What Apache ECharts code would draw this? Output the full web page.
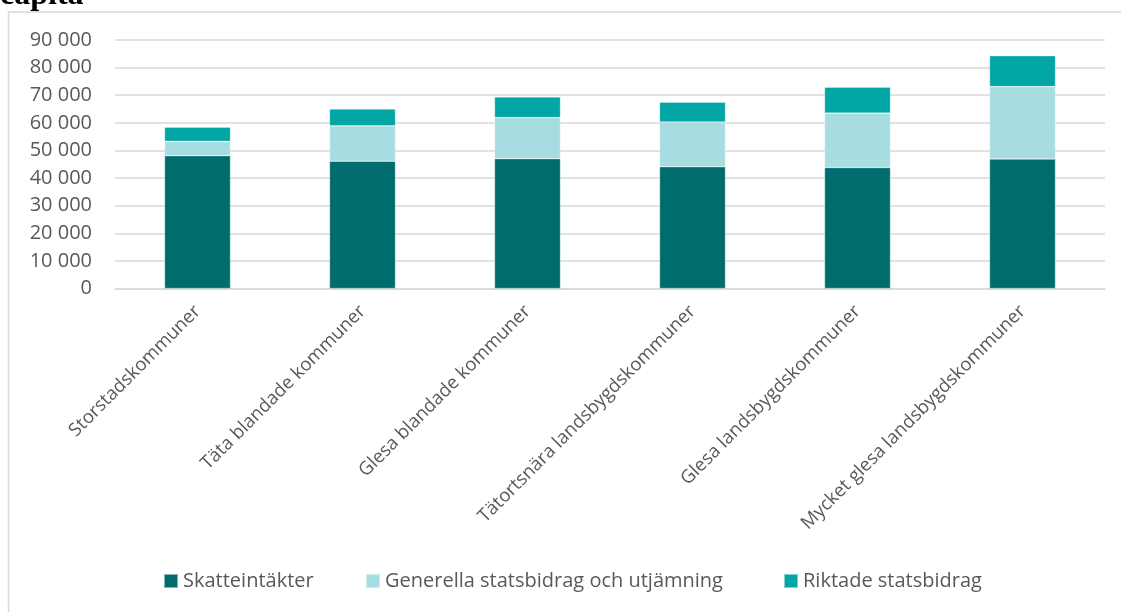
<!DOCTYPE html>
<html>
<head>
<meta charset="utf-8">
<script src="https://cdn.jsdelivr.net/npm/echarts@6/dist/echarts.min.js"></script>
<style>
html,body{margin:0;padding:0;background:#fff;}
#chart{width:1121px;height:612px;}
</style>
</head>
<body>
<div id="chart"></div>
<script>
const categories = ["Storstadskommuner","Täta blandade kommuner","Glesa blandade kommuner","Tätortsnära landsbygdskommuner","Glesa landsbygdskommuner","Mycket glesa landsbygdskommuner"];
const seriesNames = ["Skatteintäkter","Generella statsbidrag och utjämning","Riktade statsbidrag"];
const skatteintakter = [48100,46100,47000,44100,43800,46900];
const generella = [5200,12800,14900,16200,19700,26200];
const riktade = [5100,6100,7500,7200,9400,11200];
const colors = ["#006C6E","#A7DDE0","#02A6A5"];
const titleText = "capita";

const chart = echarts.init(document.getElementById('chart'));
const fontFam = "'Open Sans', sans-serif";
const legendText = {fontSize:20,color:'#595959',fontFamily:fontFam};
function mkLegend(name,left){
  return {data:[name],left:left,top:571,icon:'rect',itemWidth:14,itemHeight:14,itemGap:5,padding:0,textStyle:legendText,selectedMode:false};
}
const seriesData=[skatteintakter,generella,riktade];
chart.setOption({
  animation:false,
  backgroundColor:'#fff',
  graphic:[
    {type:'rect',shape:{x:8.5,y:12,width:1200,height:700},style:{fill:'none',stroke:'#d9d9d9',lineWidth:1.5},silent:true},
    {type:'text',left:0,top:-20,style:{text:titleText,font:"bold 32px 'Liberation Serif', serif",fill:'#000'},silent:true}
  ],
  legend:[mkLegend(seriesNames[0],163),mkLegend(seriesNames[1],365),mkLegend(seriesNames[2],783)],
  grid:{left:115,right:16,top:40,bottom:323.5,containLabel:false},
  xAxis:{type:'category',data:categories,
    axisLine:{show:true,lineStyle:{color:'#d9d9d9',width:1.5}},
    axisTick:{show:false},
    axisLabel:{rotate:45,margin:20,fontSize:18.5,color:'#595959',fontFamily:fontFam,interval:0}},
  yAxis:{type:'value',min:0,max:90000,interval:10000,
    axisLine:{show:false},axisTick:{show:false},
    splitLine:{lineStyle:{color:'#d9d9d9',width:1.5}},
    axisLabel:{margin:23,fontSize:20,color:'#595959',fontFamily:fontFam,
      formatter:v=>String(v).replace(/\B(?=(\d{3})+(?!\d))/g,' ')}},
  series:seriesNames.map((n,i)=>({name:n,type:'bar',stack:'s',data:seriesData[i],barWidth:66,
    itemStyle:{color:colors[i],borderColor:'rgba(255,255,255,0.5)',borderWidth:0.6}}))
});
</script>
</body>
</html>
